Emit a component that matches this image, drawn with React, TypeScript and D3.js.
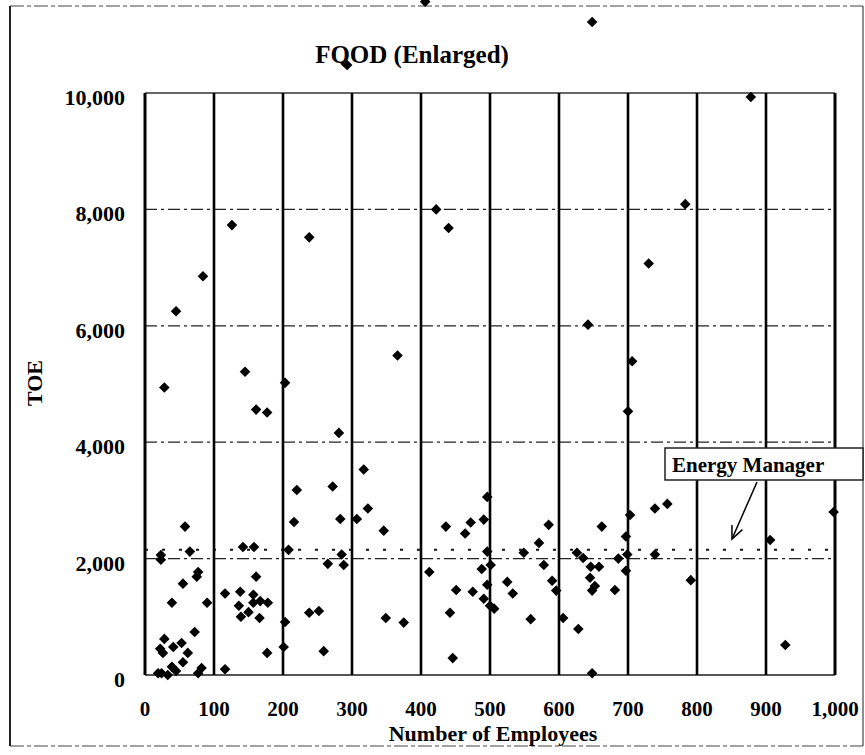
import React from "react";
import * as d3 from "d3";

// Number of employees for each plant
const employees: number[] = [
  19, 24, 33, 39, 45, 55, 62, 26, 22, 41, 53, 28, 72, 39, 90, 55, 75, 77, 23, 23, 65, 58, 28, 45, 84, 82, 77,
  116, 116, 126, 136, 138, 139, 142, 145, 150, 157, 157, 158, 161, 161, 166, 167, 177, 177, 178,
  201, 203, 203, 208, 216, 220, 238, 238, 252, 259, 265, 272, 281, 283, 285, 288, 293,
  307, 317, 323, 346, 349, 366, 375,
  406, 412, 422, 436, 440, 442, 446, 451, 464, 472, 475, 488, 491, 491, 496, 496, 496, 500, 501, 506,
  525, 533, 549, 559, 571, 578, 585, 590, 596,
  606, 626, 628, 635, 642, 645, 646, 648, 648, 648, 652, 658, 662, 681, 686, 697, 697, 699, 700,
  703, 706, 730, 739, 739, 757, 783, 791, 878, 906, 928, 998,
];

// Energy use (TOE) for each plant, same order
const toe: number[] = [
  30, 30, 0, 140, 70, 220, 380, 380, 450, 480, 550, 620, 740, 1240, 1240, 1570, 1690, 1770, 1980, 2060, 2120, 2550, 4940, 6250, 6850, 120, 30,
  100, 1400, 7730, 1190, 1430, 1000, 2200, 5210, 1080, 1380, 1240, 2200, 1690, 4560, 980, 1270, 380, 4510, 1240,
  480, 910, 5020, 2150, 2630, 3180, 1070, 7520, 1100, 410, 1910, 3240, 4160, 2680, 2070, 1890, 10480,
  2680, 3530, 2860, 2480, 980, 5490, 900,
  11570, 1770, 8000, 2550, 7680, 1070, 290, 1460, 2430, 2620, 1430, 1820, 2670, 1310, 3060, 2120, 1550, 1190, 1890, 1140,
  1600, 1400, 2100, 960, 2270, 1890, 2580, 1620, 1450,
  980, 2100, 790, 2010, 6020, 1670, 1860, 30, 1450, 11220, 1530, 1860, 2550, 1460, 2000, 2380, 1790, 2070, 4530,
  2750, 5390, 7070, 2860, 2070, 2940, 8090, 1630, 9930, 2320, 515, 2800,
];

const xTicks: number[] = [0, 100, 200, 300, 400, 500, 600, 700, 800, 900, 1000];
const yTicks: number[] = [0, 2000, 4000, 6000, 8000, 10000];
const threshold: number[] = [2150];

const title = "FQOD (Enlarged)";
const xTitle = "Number of Employees";
const yTitle = "TOE";
const annotation = "Energy Manager";

const W = 865;
const H = 755;
const FONT = "'Liberation Serif', 'Times New Roman', serif";

export default function App() {
  const x = d3.scaleLinear().domain([0, 1000]).range([145, 835]);
  const y = d3.scaleLinear().domain([0, 10000]).range([675, 93]);
  const fmt = d3.format(",");
  const diamond = d3.symbol().type(d3.symbolSquare).size(56)();

  // arrow from label box to threshold line
  const ax0 = 757, ay0 = 482, ax1 = 732, ay1 = 539;
  const ang = Math.atan2(ay0 - ay1, ax0 - ax1);
  const headLen = 14;
  const arm = (da: number) => [ax1 + headLen * Math.cos(ang + da), ay1 + headLen * Math.sin(ang + da)];
  const [h1x, h1y] = arm(0.42);
  const [h2x, h2y] = arm(-0.42);

  return (
    <svg
      width={W}
      height={H}
      viewBox={`0 0 ${W} ${H}`}
      style={{ position: "absolute", left: 0, top: 0, background: "#fff" }}
      fontFamily={FONT}
    >
      <rect x={0} y={0} width={W} height={H} fill="#fff" />
      {/* outer frame */}
      <line x1={10} y1={6} x2={863} y2={6} stroke="#444" strokeWidth={1.2} strokeDasharray="14,3,4,3" />
      <line x1={10} y1={746} x2={863} y2={746} stroke="#444" strokeWidth={1.2} strokeDasharray="14,3,4,3" />
      <line x1={10} y1={6} x2={10} y2={746} stroke="#222" strokeWidth={2} />
      <line x1={863} y1={6} x2={863} y2={746} stroke="#444" strokeWidth={1.2} />

      {/* title */}
      <text x={412} y={63} textAnchor="middle" fontSize={25} fontWeight="bold" fill="#000">
        {title}
      </text>

      {/* horizontal gridlines */}
      {yTicks
        .filter((t) => t > 0 && t < 10000)
        .map((t) => (
          <line
            key={"hg" + t}
            x1={x(0)}
            x2={x(1000)}
            y1={y(t)}
            y2={y(t)}
            stroke="#222"
            strokeWidth={1.3}
            strokeDasharray="12,4,3,4"
          />
        ))}
      {/* top and bottom of plot frame */}
      <line x1={x(0)} x2={x(1000)} y1={y(10000)} y2={y(10000)} stroke="#333" strokeWidth={1.5} />
      <line x1={x(0)} x2={x(1000)} y1={y(0)} y2={y(0)} stroke="#555" strokeWidth={2} />

      {/* vertical gridlines */}
      {xTicks.map((t) => (
        <line
          key={"vg" + t}
          x1={x(t)}
          x2={x(t)}
          y1={y(10000)}
          y2={y(0)}
          stroke="#000"
          strokeWidth={t === 0 || t === 1000 ? 3 : 2.6}
        />
      ))}

      {/* energy manager threshold */}
      {threshold.map((v) => (
        <line
          key={"th" + v}
          x1={x(0)}
          x2={x(1000)}
          y1={y(v)}
          y2={y(v)}
          stroke="#111"
          strokeWidth={2}
          strokeDasharray="3,14"
        />
      ))}

      {/* y tick labels */}
      {yTicks.map((t) => (
        <text key={"yt" + t} x={125} y={y(t) + 12} textAnchor="end" fontSize={22} fontWeight="bold" fill="#000">
          {fmt(t)}
        </text>
      ))}
      {/* x tick labels */}
      {xTicks.map((t) => (
        <text key={"xt" + t} x={x(t)} y={716} textAnchor="middle" fontSize={21} fontWeight="bold" fill="#000">
          {fmt(t)}
        </text>
      ))}

      {/* axis titles */}
      <text x={493} y={741} textAnchor="middle" fontSize={22} fontWeight="bold" fill="#000">
        {xTitle}
      </text>
      <text
        transform="translate(42,383) rotate(-90)"
        textAnchor="middle"
        fontSize={22}
        fontWeight="bold"
        fill="#000"
      >
        {yTitle}
      </text>

      {/* points */}
      {employees.map((e, i) => (
        <path
          key={"p" + i}
          d={diamond as string}
          transform={`translate(${x(e)},${y(toe[i])}) rotate(45)`}
          fill="#000"
        />
      ))}

      {/* annotation */}
      <rect x={665} y={448} width={198} height={32} fill="#fff" stroke="#222" strokeWidth={1.5} />
      <text x={672} y={472} fontSize={21} fontWeight="bold" fill="#000">
        {annotation}
      </text>
      <line x1={ax0} y1={ay0} x2={ax1} y2={ay1} stroke="#000" strokeWidth={1.5} />
      <polyline
        points={`${h1x},${h1y} ${ax1},${ay1} ${h2x},${h2y}`}
        fill="none"
        stroke="#000"
        strokeWidth={1.5}
      />
    </svg>
  );
}
